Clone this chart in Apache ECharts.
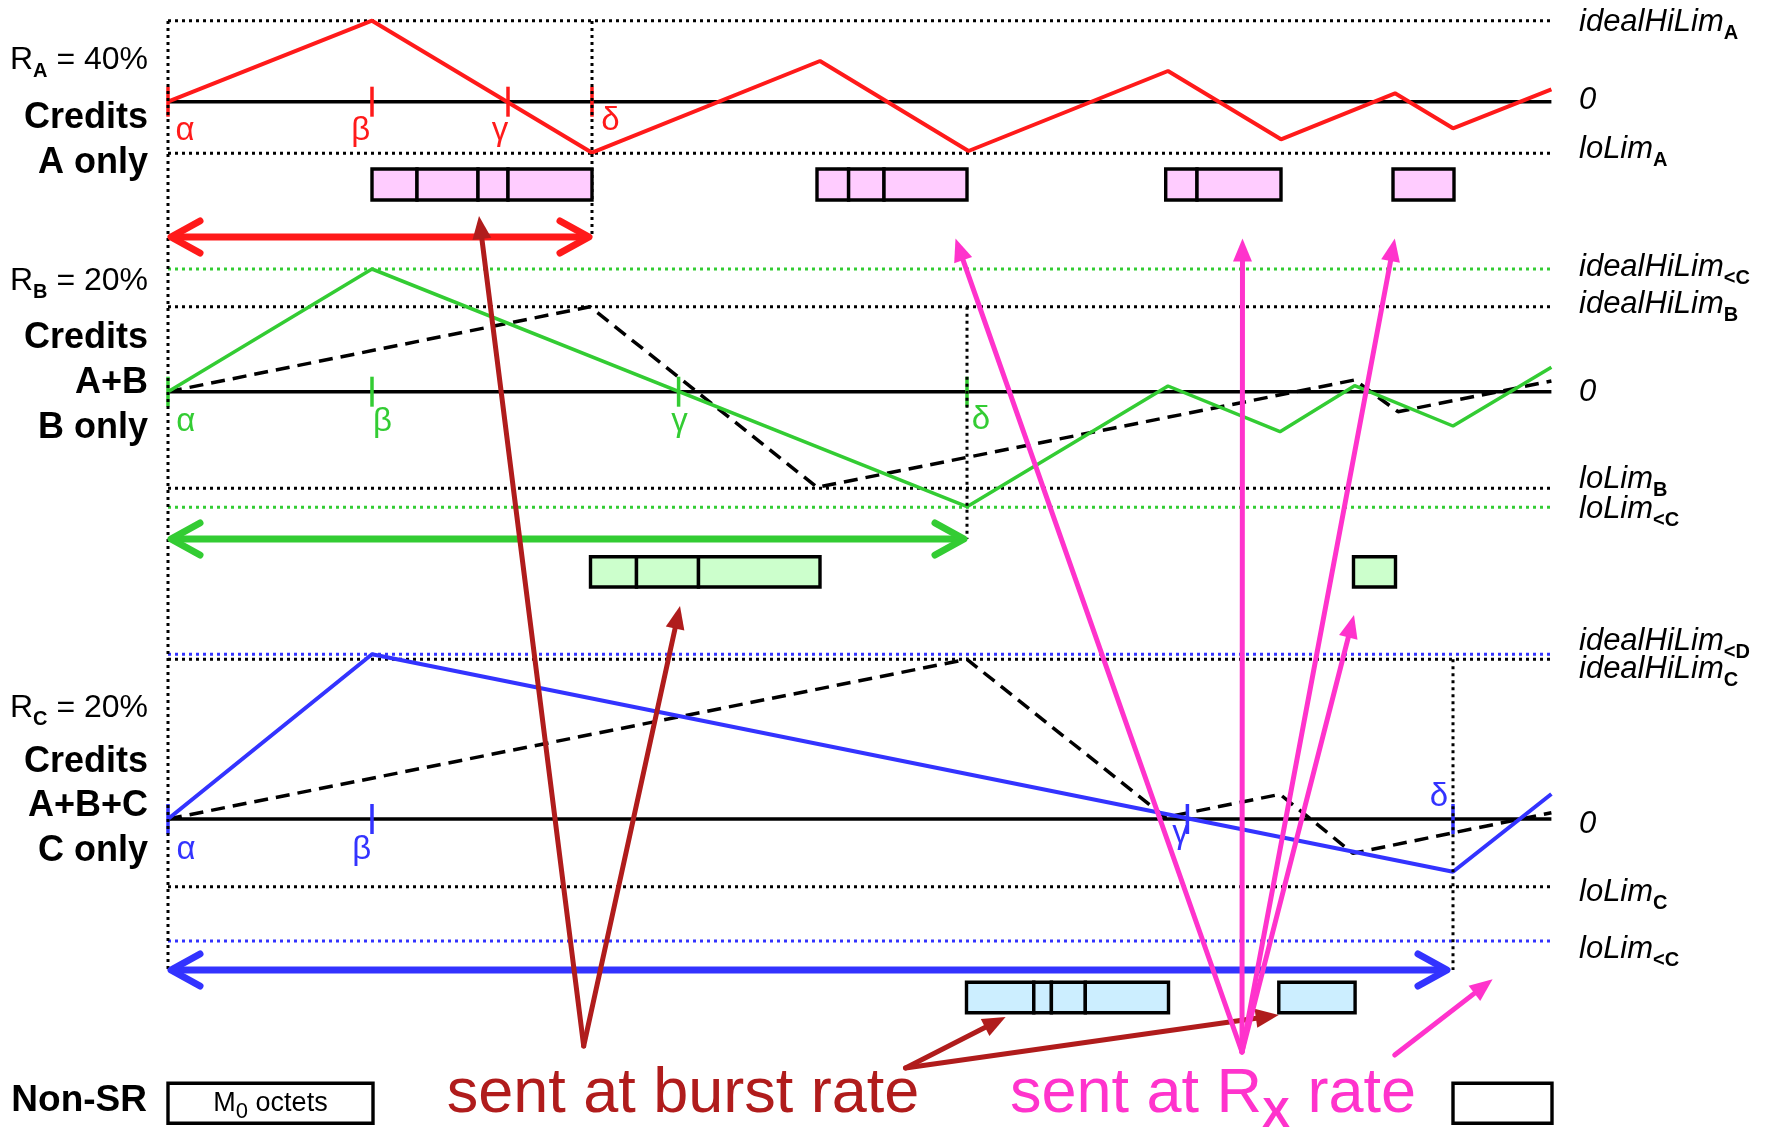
<!DOCTYPE html>
<html><head><meta charset="utf-8">
<script src="https://cdn.jsdelivr.net/npm/echarts/dist/echarts.min.js"></script>
<style>html,body{margin:0;padding:0;background:#fff}#c{width:1767px;height:1131px}</style>
</head><body><div id="c"></div>
<script>
// ---------------- DATA ----------------
// time t measured from α (in octet-times); credits in the same units
const T_END = 1383.4;
const creditsA   = [[0,0],[204,81],[424,-51],[652,40.7],[800.5,-49.3],[1000,30.7],[1113,-37.6],[1227,8.4],[1285,-26.6],[1383.4,12.4]];
const creditsB   = [[0,0],[204,122.7],[799,-115],[1000,5.7],[1112,-40],[1186.6,6],[1285,-34.3],[1383.4,24.4]];
const creditsAB  = [[0,0],[422,85],[649,-95.6],[1186.6,11.7],[1230,-20],[1383.4,10.7]];
const creditsC   = [[0,0],[204,164.7],[1285,-52.7],[1383.4,25]];
const creditsABC = [[0,0],[799,159.7],[997.5,1.7],[1112,24.7],[1185,-34.3],[1383.4,6.3]];

const limitsA       = [81, -51.6];     // idealHiLimA, loLimA
const limitsB       = [85, -96.6];     // idealHiLimB, loLimB
const limitsB_lessC = [122.7, -115.6]; // idealHiLim<C, loLim<C
const limitsC       = [159.7, -67.7];  // idealHiLimC, loLimC
const limitsC_lessD = [164.7];         // idealHiLim<D
const limitsC_lessC = [-122];          // loLim<C

const eventsA = [0, 204, 340, 424];    // α β γ δ
const eventsB = [0, 204, 510.6, 799];
const eventsC = [0, 204, 1019.4, 1285];
const greek = ['α','β','γ','δ'];

const framesA = [[204,249],[249,310],[310,340],[340,424],[649,680.6],[680.6,716],[716,799],[997.7,1029],[1029,1113],[1225,1286]];
const framesB = [[422.5,468.5],[468.5,530.5],[530.5,652],[1185.5,1227.5]];
const framesC = [[798.5,865.8],[865.8,883.4],[883.4,917.3],[917.3,1000.5],[1110.8,1187.1]];
const framesNonSR = [[0,205],[1285,1384]];

const periodA = [0, 424];
const periodB = [0, 799];
const periodC = [0, 1282];

const rateLabels = ['R{s|A} = 40%', 'R{s|B} = 20%', 'R{s|C} = 20%'];
const panelLabels = [['Credits','A only'], ['Credits','A+B','B only'], ['Credits','A+B+C','C only']];
const rightLabelsA = [['idealHiLim','A'],['0',''],['loLim','A']];
const rightLabelsB = [['idealHiLim','<C'],['idealHiLim','B'],['0',''],['loLim','B'],['loLim','<C']];
const rightLabelsC = [['idealHiLim','<D'],['idealHiLim','C'],['0',''],['loLim','C'],['loLim','<C']];

// annotation pointers [from, to] in (t, row)
const burstArrows = [[[415.7,1046],[311,216]], [[415.7,1046],[512,606]], [[737.5,1068],[837.6,1017]], [[737.5,1068],[1110.7,1015]]];
const rateArrows  = [[[1074,1052],[787.5,238.5]], [[1074,1052],[1074.5,238.5]], [[1074,1052],[1226.8,238.5]], [[1074,1052],[1186,615]], [[1226.7,1055],[1324.6,979.3]]];

// ---------------- LAYOUT / STYLE ----------------
const FONT = "'Liberation Sans', Arial, Helvetica, sans-serif";
const COL = {A:'#ff1a1a', B:'#33cc33', C:'#3333ff', burst:'#b01c1c', rate:'#ff33cc',
             fillA:'#ffccff', fillB:'#ccffcc', fillC:'#cceeff', fillNS:'#ffffff'};
const LAY = {
  zero: {A:101.7, B:391.7, C:819},
  lane: {A:[169,200], B:[556.7,587], C:[982.3,1012.7], NS:[1083.3,1123.3]},
  spanRow: {A:237, B:539, C:970},
  top: 21,
  leftX: -20, rightX: 1411,
  rateRow: {A:60.5, B:281.5, C:708},
  panelRows: {A:[118,163], B:[338,383,428], C:[762,806,851]},
  rightRows: {A:[22,100,149], B:[267,304,392,479,509], C:[641,669,824,892,949]},
  greekPos: {A:[[17,131],[192.7,131],[332,131],[442.4,121]],
             B:[[17.8,422],[214.4,422],[511.6,422],[813,420]],
             C:[[18,850],[193.7,850],[1012.5,834],[1271,797]]}
};
const rowOf = (p, c) => LAY.zero[p] - c;
const toRows = (arr, p) => arr.map(([t,c]) => [t, rowOf(p,c)]);

const series = [];
const DOT = [3,4];
function lineS(data, color, width, type, z){
  series.push({type:'line', data, symbol:'none', silent:true, z, clip:false,
    lineStyle:{color, width, type, cap:'butt'}, animation:false});
}
// horizontal limit lines
limitsA.forEach(c => lineS([[0,rowOf('A',c)],[T_END,rowOf('A',c)]], '#000', 3, DOT, 1));
limitsB.forEach(c => lineS([[0,rowOf('B',c)],[T_END,rowOf('B',c)]], '#000', 3, DOT, 1));
limitsB_lessC.forEach(c => lineS([[0,rowOf('B',c)],[T_END,rowOf('B',c)]], COL.B, 3, DOT, 1));
limitsC.forEach(c => lineS([[0,rowOf('C',c)],[T_END,rowOf('C',c)]], '#000', 3, DOT, 1));
limitsC_lessD.forEach(c => lineS([[0,rowOf('C',c)],[T_END,rowOf('C',c)]], COL.C, 3, DOT, 1));
limitsC_lessC.forEach(c => lineS([[0,rowOf('C',c)],[T_END,rowOf('C',c)]], COL.C, 3, DOT, 1));
// zero lines
['A','B','C'].forEach(p => lineS([[0,LAY.zero[p]],[T_END,LAY.zero[p]]], '#000', 3.5, 'solid', 2));
// credit curves
lineS(toRows(creditsAB,'B'), '#000', 3.5, [14,8], 3);
lineS(toRows(creditsABC,'C'), '#000', 3.5, [14,8], 3);
lineS(toRows(creditsA,'A'), COL.A, 4, 'solid', 4);
lineS(toRows(creditsB,'B'), COL.B, 3.5, 'solid', 4);
lineS(toRows(creditsC,'C'), COL.C, 4, 'solid', 4);

// event ticks
const ticks = [];
[['A',eventsA],['B',eventsB],['C',eventsC]].forEach(([p,ev]) => ev.forEach(t => ticks.push({t, row:LAY.zero[p], color:COL[p]})));
series.push({type:'custom', z:5, silent:true, data:ticks.map(k=>[k.t,k.row]),
  renderItem:(params, api) => { const k = ticks[params.dataIndex]; const a = api.coord([k.t,k.row]);
    return {type:'line', shape:{x1:a[0],y1:a[1]-15,x2:a[0],y2:a[1]+15}, style:{stroke:k.color, fill:'none', lineWidth:3.5}}; }});

// vertical dotted lines
lineS([[0,LAY.top],[0,973]], '#000', 3, DOT, 6);
lineS([[periodA[1],LAY.top],[periodA[1],LAY.spanRow.A]], '#000', 3, DOT, 6);
lineS([[periodB[1],rowOf('B',limitsB[0])],[periodB[1],LAY.spanRow.B]], '#000', 3, DOT, 6);
lineS([[eventsC[3],rowOf('C',limitsC[0])],[eventsC[3],LAY.spanRow.C]], '#000', 3, DOT, 6);

// frame boxes
const boxes = [];
framesA.forEach(([a,b]) => boxes.push({a,b,lane:LAY.lane.A,fill:COL.fillA}));
framesB.forEach(([a,b]) => boxes.push({a,b,lane:LAY.lane.B,fill:COL.fillB}));
framesC.forEach(([a,b]) => boxes.push({a,b,lane:LAY.lane.C,fill:COL.fillC}));
framesNonSR.forEach(([a,b]) => boxes.push({a,b,lane:LAY.lane.NS,fill:COL.fillNS}));
series.push({type:'custom', z:7, silent:true, data:boxes.map(b=>[b.a,b.b]),
  renderItem:(params, api) => { const b = boxes[params.dataIndex];
    const p0 = api.coord([b.a,b.lane[0]]), p1 = api.coord([b.b,b.lane[1]]);
    return {type:'rect', shape:{x:p0[0],y:p0[1],width:p1[0]-p0[0],height:p1[1]-p0[1]},
      style:{fill:b.fill, stroke:'#000', lineWidth:3.4}}; }});

// double-headed period arrows
const spans = [{p:periodA,row:LAY.spanRow.A,color:COL.A},{p:periodB,row:LAY.spanRow.B,color:COL.B},{p:periodC,row:LAY.spanRow.C,color:COL.C}];
series.push({type:'custom', z:8, silent:true, data:spans.map(s=>[s.p[0],s.row]),
  renderItem:(params, api) => { const s = spans[params.dataIndex];
    const a = api.coord([s.p[0],s.row]), b = api.coord([s.p[1],s.row]);
    const st = {stroke:s.color, fill:'none', lineWidth:7, lineCap:'round', lineJoin:'round'};
    return {type:'group', children:[
      {type:'line', shape:{x1:a[0]+3,y1:a[1],x2:b[0]-3,y2:b[1]}, style:Object.assign({},st,{lineCap:'butt'})},
      {type:'polyline', shape:{points:[[a[0]+32,a[1]-16],[a[0]+3,a[1]],[a[0]+32,a[1]+16]]}, style:st},
      {type:'polyline', shape:{points:[[b[0]-32,b[1]-16],[b[0]-3,b[1]],[b[0]-32,b[1]+16]]}, style:st}
    ]}; }});

// annotation arrows
const pointers = [];
burstArrows.forEach(([f,t]) => pointers.push({f,t,color:COL.burst}));
rateArrows.forEach(([f,t]) => pointers.push({f,t,color:COL.rate}));
series.push({type:'custom', z:9, silent:true, data:pointers.map(p=>[p.f[0],p.f[1]]),
  renderItem:(params, api) => { const q = pointers[params.dataIndex];
    const a = api.coord(q.f), b = api.coord(q.t);
    const dx = b[0]-a[0], dy = b[1]-a[1], len = Math.hypot(dx,dy), ux = dx/len, uy = dy/len;
    const HL = 23, HW = 9.5;
    const bx = b[0]-ux*HL, by = b[1]-uy*HL;
    return {type:'group', children:[
      {type:'line', shape:{x1:a[0],y1:a[1],x2:bx+ux*2,y2:by+uy*2}, style:{stroke:q.color, fill:'none', lineWidth:5, lineCap:'round'}},
      {type:'polygon', shape:{points:[[b[0],b[1]],[bx-uy*HW,by+ux*HW],[bx+uy*HW,by-ux*HW]]}, style:{fill:q.color, stroke:'none'}}
    ]}; }});

// texts
function rich(mainSize, weight, fstyle, color, subSize, shift, subWeight){
  return {
    m:{fontSize:mainSize, fontWeight:weight, fontStyle:fstyle, fontFamily:FONT, fill:color, lineHeight:subSize+2*shift},
    s:{fontSize:subSize, fontWeight:subWeight||'bold', fontStyle:'normal', fontFamily:FONT, fill:color, lineHeight:subSize, verticalAlign:'bottom'}
  };
}
const texts = [];
function addText(t,row,text,align,r){ texts.push({t,row,text,align,rich:r}); }
const panels = ['A','B','C'];
panels.forEach((p,i) => {
  const rt = rateLabels[i].replace(/^R\{s\|(.)\}(.*)$/, '{m|R}{s|$1}{m|$2}');
  addText(LAY.leftX, LAY.rateRow[p], rt, 'right', rich(32,'normal','normal','#000',20,11));
  panelLabels[i].forEach((s,j) => addText(LAY.leftX, LAY.panelRows[p][j], '{m|'+s+'}', 'right', rich(36,'bold','normal','#000',18,10)));
  const rl = [rightLabelsA, rightLabelsB, rightLabelsC][i];
  rl.forEach(([m,s],j) => addText(LAY.rightX, LAY.rightRows[p][j], '{m|'+m+'}'+(s?'{s|'+s+'}':''), 'left', rich(31,'normal','italic','#000',20,11)));
  LAY.greekPos[p].forEach(([t,row],j) => addText(t,row,'{m|'+greek[j]+'}','center', rich(33,'normal','normal',COL[p],18,10)));
});
addText(LAY.leftX-1, 1101, '{m|Non-SR}', 'right', rich(37,'bold','normal','#000',18,10));
addText((framesNonSR[0][0]+framesNonSR[0][1])/2, 1104, '{m|M}{s|0}{m| octets}', 'center', rich(27,'normal','normal','#000',22,8,'normal'));
addText(515, 1095, '{m|sent at burst rate}', 'center', rich(63,'normal','normal',COL.burst,40,20));
addText(1045, 1095, '{m|sent at R}{s|X}{m| rate}', 'center', rich(63,'normal','normal',COL.rate,42,20));

series.push({type:'custom', z:10, silent:true, data:texts.map(x=>[x.t,x.row]),
  renderItem:(params, api) => { const x = texts[params.dataIndex]; const a = api.coord([x.t,x.row]);
    return {type:'text', x:a[0], y:a[1], style:{text:x.text, rich:x.rich, align:x.align, verticalAlign:'middle',
      fontFamily:FONT, fontSize:30, fill:'#000'}}; }});

const chart = echarts.init(document.getElementById('c'), null, {width:1767, height:1131});
chart.setOption({
  backgroundColor:'#ffffff',
  animation:false,
  grid:{left:0,right:0,top:0,bottom:0,containLabel:false},
  xAxis:{type:'value', min:-168, max:1599, show:false, splitLine:{show:false}},
  yAxis:{type:'value', min:0, max:1131, inverse:true, show:false, splitLine:{show:false}},
  series
});
</script></body></html>
